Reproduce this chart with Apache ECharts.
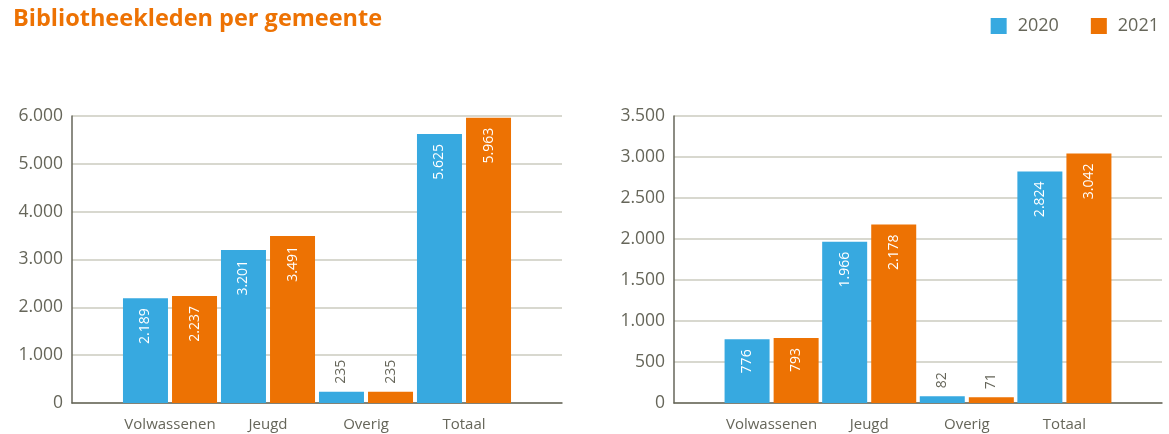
<!DOCTYPE html>
<html>
<head>
<meta charset="utf-8">
<script src="https://cdn.jsdelivr.net/npm/echarts@6/dist/echarts.min.js"></script>
<style>
  html, body { margin: 0; padding: 0; background: #fff; }
  #chart { width: 1169px; height: 434px; }
</style>
</head>
<body>
<div id="chart"></div>
<script>
// data
const categories = ["Volwassenen", "Jeugd", "Overig", "Totaal"];
const years = ["2020", "2021"];
const left2020 = [2189, 3201, 235, 5625];
const left2021 = [2237, 3491, 235, 5963];
const right2020 = [776, 1966, 82, 2824];
const right2021 = [793, 2178, 71, 3042];
const leftAxis = { max: 6000, step: 1000 };
const rightAxis = { max: 3500, step: 500 };

const blue = "#37a9e0";
const orange = "#ed7203";
const grey = "#66665a";
const font = "Open Sans";

// dutch thousands separator
function fmt(v) {
  return String(v).replace(/\B(?=(\d{3})+(?!\d))/g, ".");
}

// label inside the bar when it is tall enough, otherwise on top of it
function barLabel(v, max) {
  if (v / max > 0.15) {
    return {
      show: true,
      position: "insideTop",
      rotate: 90,
      align: "right",
      verticalAlign: "middle",
      distance: 10,
      color: "#fff",
    };
  }
  return {
    show: true,
    position: "top",
    rotate: 90,
    align: "left",
    verticalAlign: "middle",
    distance: 8,
    color: grey,
  };
}

function makeData(values, max) {
  return values.map((v, i) => ({ value: [i + 1, v], label: barLabel(v, max) }));
}

function xAxisFor(gridIndex) {
  return {
    type: "value",
    gridIndex: gridIndex,
    min: 0,
    max: categories.length + 1,
    interval: 1,
    splitLine: { show: false },
    axisTick: { show: false },
    axisLine: { show: true, lineStyle: { color: grey, width: 1.5 } },
    axisLabel: {
      color: grey,
      fontFamily: font,
      fontSize: 15,
      margin: 14,
      formatter: (v) => categories[v - 1] || "",
    },
  };
}

function yAxisFor(gridIndex, ax) {
  return {
    type: "value",
    gridIndex: gridIndex,
    min: 0,
    max: ax.max,
    interval: ax.step,
    axisLine: { show: true, lineStyle: { color: grey, width: 1.5 } },
    axisTick: { show: false },
    splitLine: { lineStyle: { color: "#cbcbbf", width: 1.5 } },
    axisLabel: {
      color: grey,
      fontFamily: font,
      fontSize: 17.5,
      margin: 9,
      formatter: (v) => fmt(v),
    },
  };
}

function barSeries(name, values, max, color, idx) {
  return {
    name: name,
    type: "bar",
    xAxisIndex: idx,
    yAxisIndex: idx,
    barWidth: 45,
    barGap: "9%",
    itemStyle: { color: color },
    label: {
      fontFamily: font,
      fontSize: 14,
      formatter: (p) => fmt(p.value[1]),
    },
    data: makeData(values, max),
  };
}

const chart = echarts.init(document.getElementById("chart"));
chart.setOption({
  animation: false,
  textStyle: { fontFamily: font },
  title: {
    text: "Bibliotheekleden per gemeente",
    left: 8,
    top: 2,
    textStyle: { color: orange, fontFamily: font, fontSize: 23.5, fontWeight: "bold" },
  },
  legend: {
    data: years,
    right: 5,
    top: 12,
    icon: "rect",
    itemWidth: 16,
    itemHeight: 16,
    itemGap: 32,
    textStyle: { color: grey, fontFamily: font, fontSize: 18, padding: [0, 0, 0, 6] },
  },
  grid: [
    { left: 72, right: 607, top: 116, bottom: 31, containLabel: false },
    { left: 674, right: 7, top: 116, bottom: 31, containLabel: false },
  ],
  xAxis: [xAxisFor(0), xAxisFor(1)],
  yAxis: [yAxisFor(0, leftAxis), yAxisFor(1, rightAxis)],
  series: [
    barSeries(years[0], left2020, leftAxis.max, blue, 0),
    barSeries(years[1], left2021, leftAxis.max, orange, 0),
    barSeries(years[0], right2020, rightAxis.max, blue, 1),
    barSeries(years[1], right2021, rightAxis.max, orange, 1),
  ],
});
</script>
</body>
</html>
